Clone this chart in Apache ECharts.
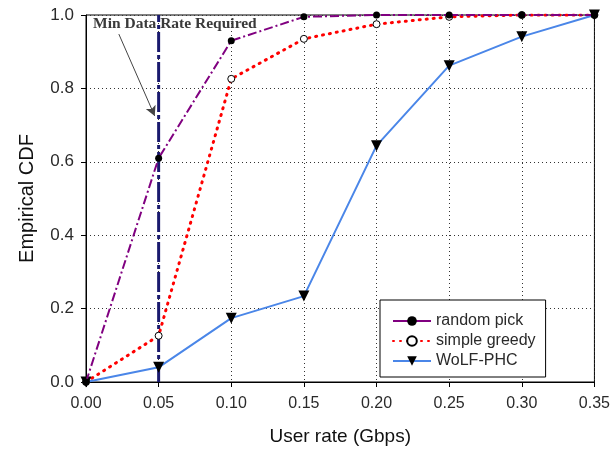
<!DOCTYPE html>
<html>
<head>
<meta charset="utf-8">
<script src="https://cdn.jsdelivr.net/npm/echarts@6/dist/echarts.min.js"></script>
<style>
  html, body { margin: 0; padding: 0; background: #fff; }
  #chart { width: 613px; height: 455px; }
</style>
</head>
<body>
<div id="chart"></div>
<script>
// user rate (Gbps)
const rates = [0.00, 0.05, 0.10, 0.15, 0.20, 0.25, 0.30, 0.35]
const randomPick = [0.0, 0.61, 0.93, 0.995, 1.0, 1.0, 1.0, 1.0]
const simpleGreedy = [0.0, 0.126, 0.826, 0.935, 0.975, 0.995, 1.0, 1.0]
const wolfPhc = [0.0, 0.04, 0.174, 0.234, 0.644, 0.862, 0.941, 1.0]
const minRate = 0.05
const noteText = 'Min Data Rate Required'

const pairs = (ys) => rates.map((x, i) => [x, ys[i]])
const labelFont = { fontFamily: 'Liberation Sans, Arial, sans-serif', color: '#2a2a2a' }

const chart = echarts.init(document.getElementById('chart'))

chart.setOption({
  animation: false,
  grid: {
    left: 86, right: 17, top: 15, bottom: 73,
    show: true, borderColor: '#000', borderWidth: 1
  },
  xAxis: {
    type: 'value', min: 0, max: 0.35, interval: 0.05,
    name: 'User rate (Gbps)', nameLocation: 'middle', nameGap: 45,
    nameTextStyle: { ...labelFont, fontSize: 19, color: '#111' },
    axisLine: { lineStyle: { color: '#000' } },
    axisTick: { length: 5, lineStyle: { color: '#000' } },
    axisLabel: { ...labelFont, fontSize: 16, margin: 14, formatter: v => v.toFixed(2) },
    splitLine: { lineStyle: { color: '#333', type: [1, 3] } }
  },
  yAxis: {
    type: 'value', min: 0, max: 1, interval: 0.2,
    name: 'Empirical CDF', nameLocation: 'middle', nameGap: 49,
    nameTextStyle: { ...labelFont, fontSize: 20, color: '#111' },
    axisLine: { show: true, lineStyle: { color: '#000' } },
    axisTick: { show: true, length: 5, lineStyle: { color: '#000' } },
    axisLabel: { ...labelFont, fontSize: 17, margin: 12, formatter: v => v.toFixed(1) },
    splitLine: { lineStyle: { color: '#333', type: [1, 3] } }
  },
  legend: {
    left: 380, top: 300, width: 175, height: 79,
    orient: 'vertical',
    backgroundColor: '#fff', borderColor: '#000', borderWidth: 1,
    padding: [13, 10, 8, 12], itemGap: 4,
    itemWidth: 38, itemHeight: 12,
    textStyle: { ...labelFont, fontSize: 16 },
    data: [
      { name: 'random pick', lineStyle: { type: 'solid' } },
      { name: 'simple greedy' },
      { name: 'WoLF-PHC' }
    ]
  },
  graphic: [{
    type: 'text', left: 93, top: 16,
    style: {
      text: noteText,
      font: 'bold 15.5px "Liberation Serif", "Times New Roman", serif',
      fill: '#3a3a3a'
    }
  }],
  series: [
    {
      name: 'min rate', type: 'line',
      data: [[minRate, 0], [minRate, 1]],
      symbol: 'none', silent: true, z: 1,
      lineStyle: { color: '#1a1a6e', width: 3, type: [20, 3, 4, 3] },
      markLine: {
        silent: true, symbol: ['none', 'arrow'], symbolSize: [8, 10],
        lineStyle: { color: '#444', width: 1, type: 'solid' },
        label: { show: false },
        data: [[{ coord: [0.0226, 0.948] }, { coord: [0.0473, 0.725] }]]
      }
    },
    {
      name: 'random pick', type: 'line', data: pairs(randomPick),
      symbol: 'circle', symbolSize: 7, z: 4,
      itemStyle: { color: '#000' },
      lineStyle: { color: '#800080', width: 2, type: [9, 3, 2, 3] }
    },
    {
      name: 'simple greedy', type: 'line', data: pairs(simpleGreedy),
      symbol: 'circle', symbolSize: 7, z: 3,
      itemStyle: { color: '#fff', borderColor: '#000', borderWidth: 1 },
      lineStyle: { color: '#ff0000', width: 3, type: [1, 6], cap: 'round' }
    },
    {
      name: 'WoLF-PHC', type: 'line', data: pairs(wolfPhc),
      symbol: 'triangle', symbolRotate: 180, symbolSize: 11, z: 3,
      itemStyle: { color: '#000' },
      lineStyle: { color: '#4a86e8', width: 2 }
    }
  ]
})
</script>
</body>
</html>
